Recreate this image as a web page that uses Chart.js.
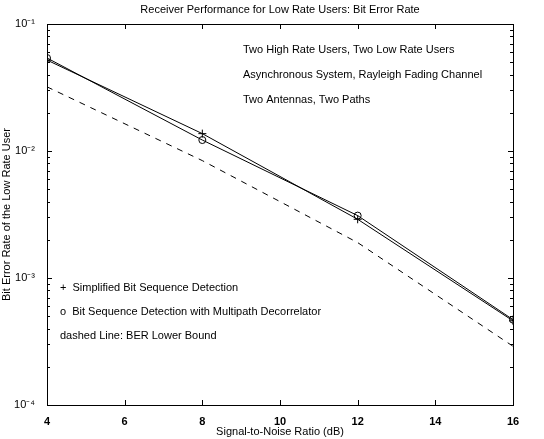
<!DOCTYPE html>
<html lang="en">
<head>
  <meta charset="UTF-8">
  <script src="https://cdn.jsdelivr.net/npm/chart.js"></script>
  <title>BER low rate users</title>
  <style>
    html, body { margin: 0; padding: 0; background: #fff; }
    #wrap { width: 544px; height: 439px; }
  </style>
</head>
<body>
  <div id="wrap"><canvas id="myChart" width="544" height="439"></canvas></div>
  <script>
    // data
    const snr = [4, 8, 12, 16];
    const simplified = [0.052, 0.0137, 0.0029, 0.00046];
    const decorrelator = [0.054, 0.0122, 0.0031, 0.00047];
    const lowerBound = [0.032, 0.0084, 0.0019, 0.00029];
    const decadeTicks = [1e-4, 1e-3, 1e-2, 1e-1];
    const decadeLabels = ['10⁻⁴', '10⁻³', '10⁻²', '10⁻¹'];

    const infoLines = [
      'Two High Rate Users, Two Low Rate Users',
      'Asynchronous System, Rayleigh Fading Channel',
      'Two Antennas, Two Paths'
    ];
    const legendLines = [
      '+  Simplified Bit Sequence Detection',
      'o  Bit Sequence Detection with Multipath Decorrelator',
      'dashed Line: BER Lower Bound'
    ];

    const font = '"Liberation Sans", Arial, sans-serif';
    const toXY = ys => snr.map((x, i) => ({ x: x, y: ys[i] }));

    // inward tick marks on all four sides, plus the text boxes
    const boxPlugin = {
      id: 'box',
      afterDatasetsDraw(chart) {
        const { ctx, chartArea: a, scales } = chart;
        const xs = scales.x, ys = scales.y;
        ctx.save();
        ctx.strokeStyle = '#000';
        ctx.lineWidth = 1;
        ctx.strokeRect(a.left + 0.5, a.top + 0.5, a.right - a.left, a.bottom - a.top);
        ctx.beginPath();
        for (let v = 4; v <= 16; v += 2) {
          const px = Math.round(xs.getPixelForValue(v)) + 0.5;
          ctx.moveTo(px, a.bottom); ctx.lineTo(px, a.bottom - 5);
          ctx.moveTo(px, a.top); ctx.lineTo(px, a.top + 5);
        }
        for (let e = -4; e <= -1; e++) {
          for (let m = 1; m <= 9; m++) {
            const v = m * Math.pow(10, e);
            if (v > 0.1 + 1e-12) break;
            const py = Math.round(ys.getPixelForValue(v)) + 0.5;
            const len = m === 1 ? 5 : 3;
            ctx.moveTo(a.left, py); ctx.lineTo(a.left + len, py);
            ctx.moveTo(a.right, py); ctx.lineTo(a.right - len, py);
          }
        }
        ctx.stroke();

        ctx.fillStyle = '#000';
        ctx.font = '11px ' + font;
        ctx.textBaseline = 'middle';
        ctx.textAlign = 'left';
        infoLines.forEach((t, i) => ctx.fillText(t, a.left + 196, a.top + 26 + i * 25));
        legendLines.forEach((t, i) => ctx.fillText(t, a.left + 13, a.top + 264 + i * 24));

        ctx.textAlign = 'center';
        ctx.fillText('Receiver Performance for Low Rate Users: Bit Error Rate', (a.left + a.right) / 2, 10);
        ctx.restore();
      }
    };

    const ctx = document.getElementById('myChart').getContext('2d');
    const myChart = new Chart(ctx, {
      type: 'line',
      data: {
        datasets: [
          {
            label: 'Simplified Bit Sequence Detection',
            data: toXY(simplified),
            borderColor: '#000',
            borderWidth: 1,
            pointStyle: 'cross',
            pointRadius: 4,
            pointBorderColor: '#000',
            pointBorderWidth: 1
          },
          {
            label: 'Bit Sequence Detection with Multipath Decorrelator',
            data: toXY(decorrelator),
            borderColor: '#000',
            borderWidth: 1,
            pointStyle: 'circle',
            pointRadius: 3.5,
            pointBackgroundColor: 'rgba(255,255,255,0)',
            pointBorderColor: '#000',
            pointBorderWidth: 1
          },
          {
            label: 'BER Lower Bound',
            data: toXY(lowerBound),
            borderColor: '#000',
            borderWidth: 1,
            borderDash: [6, 6],
            pointRadius: 0
          }
        ]
      },
      options: {
        responsive: false,
        animation: false,
        layout: { padding: { top: 24, right: 31, left: 0, bottom: 0 } },
        plugins: {
          legend: { display: false },
          tooltip: { enabled: false }
        },
        scales: {
          x: {
            type: 'linear',
            min: 4,
            max: 16,
            grid: { display: false },
            border: { display: false },
            ticks: {
              stepSize: 2,
              color: '#000',
              font: { family: font, size: 11, weight: 'bold' },
              padding: 2,
              maxRotation: 0
            },
            title: {
              display: true,
              text: 'Signal-to-Noise Ratio (dB)',
              color: '#000',
              font: { family: font, size: 11 },
              padding: { top: 0, bottom: 0 }
            },
            afterFit(s) { s.height = 34; }
          },
          y: {
            type: 'logarithmic',
            min: 1e-4,
            max: 1e-1,
            grid: { display: false },
            border: { display: false },
            afterBuildTicks(s) { s.ticks = decadeTicks.map(v => ({ value: v })); },
            ticks: {
              color: '#000',
              font: { family: font, size: 11 },
              padding: 4,
              callback: v => decadeLabels[decadeTicks.findIndex(d => Math.abs(d - v) / d < 1e-6)]
            },
            title: {
              display: true,
              text: 'Bit Error Rate of the Low Rate User',
              color: '#000',
              font: { family: font, size: 11 },
              padding: { top: 0, bottom: 2 }
            },
            afterFit(s) { s.width = 47; }
          }
        }
      },
      plugins: [boxPlugin]
    });
  </script>
</body>
</html>
